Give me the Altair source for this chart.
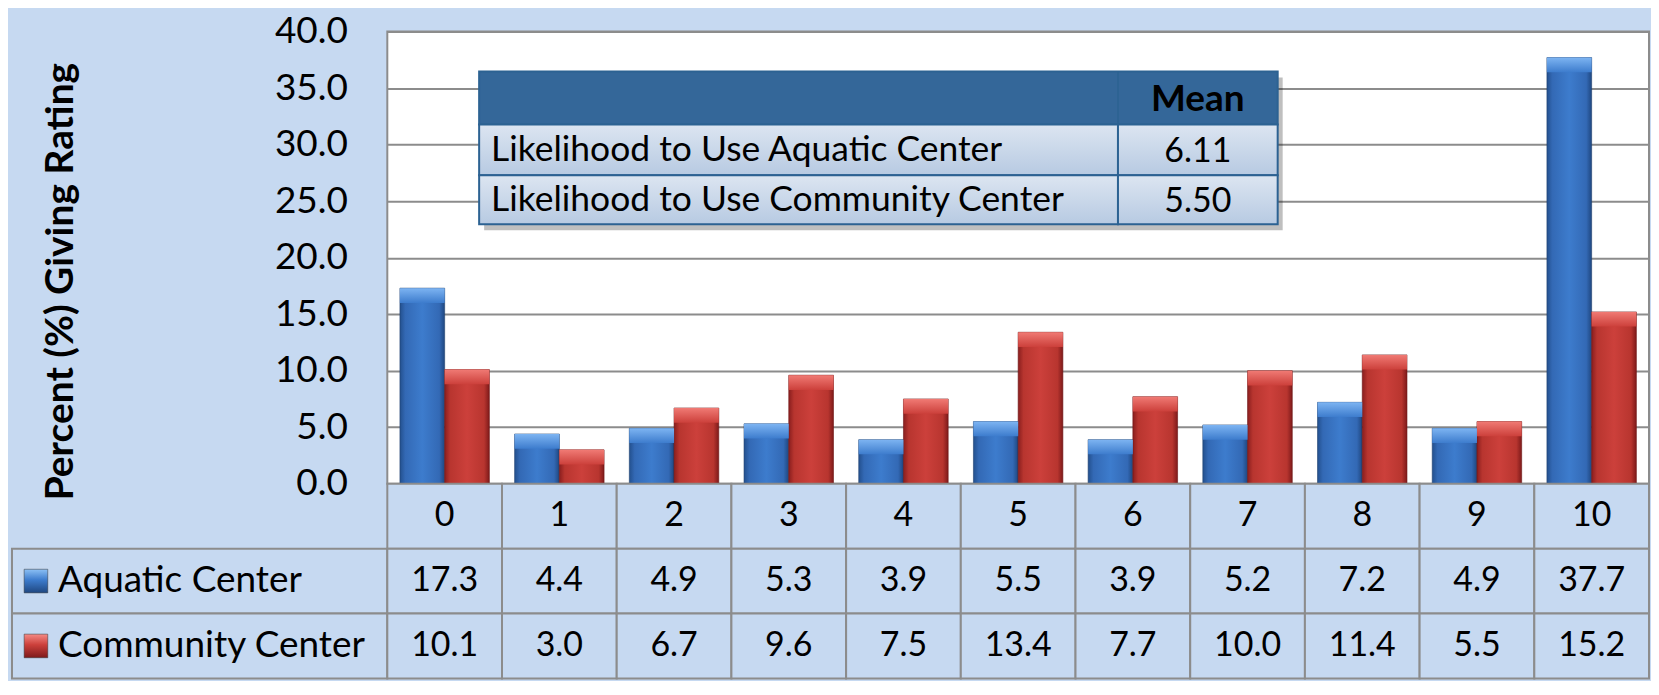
import altair as alt
import pandas as pd

# ---------------- data ----------------
ratings = ["0", "1", "2", "3", "4", "5", "6", "7", "8", "9", "10"]
aquatic = [17.3, 4.4, 4.9, 5.3, 3.9, 5.5, 3.9, 5.2, 7.2, 4.9, 37.7]
community = [10.1, 3.0, 6.7, 9.6, 7.5, 13.4, 7.7, 10.0, 11.4, 5.5, 15.2]
series_names = ["Aquatic Center", "Community Center"]
y_ticks = [0, 5, 10, 15, 20, 25, 30, 35, 40]
y_title = "Percent (%) Giving Rating"
mean_header = "Mean"
mean_labels = ["Likelihood to Use Aquatic Center", "Likelihood to Use Community Center"]
mean_values = ["6.11", "5.50"]

# ---------------- style / layout ----------------
BG = "#C6D9F1"
GRID = "#8C8C8C"
FONT = "Lato"
W_LEFT, W_PLOT, H_PLOT, H_ROW = 376, 1264, 453, 65
row_keys = ["hdr", "aq", "cc"]


def grad_h(stops):
    return alt.Gradient(gradient="linear", x1=0, x2=1, y1=0, y2=0,
                        stops=[alt.GradientStop(color=c, offset=o) for o, c in stops])


def grad_v(stops):
    return alt.Gradient(gradient="linear", x1=0, x2=0, y1=0, y2=1,
                        stops=[alt.GradientStop(color=c, offset=o) for o, c in stops])


blue_body = grad_h([(0, "#23508E"), (0.12, "#3369B5"), (0.5, "#3D7CCD"), (0.88, "#3369B5"), (1, "#1F4780")])
red_body = grad_h([(0, "#8A1E1E"), (0.12, "#B8352F"), (0.5, "#CC403B"), (0.88, "#B8352F"), (1, "#7E1A1A")])
blue_top = grad_v([(0, "#7DB4F2"), (1, "#3D7CCD")])
red_top = grad_v([(0, "#F07A74"), (1, "#CC403B")])
body_grads = [blue_body, red_body]
top_grads = [blue_top, red_top]
icon_grads = [grad_v([(0, "#8CC0F5"), (0.45, "#3D7CCD"), (1, "#1F4780")]),
              grad_v([(0, "#F58A84"), (0.45, "#CC403B"), (1, "#7E1A1A")])]

bars_df = pd.DataFrame({
    "rating": ratings * 2,
    "series": [series_names[0]] * len(ratings) + [series_names[1]] * len(ratings),
    "value": aquatic + community,
})

x_enc = alt.X("rating:N", sort=ratings,
              scale=alt.Scale(domain=ratings, paddingInner=0.22, paddingOuter=0.11), axis=None)
xo_enc = alt.XOffset("series:N", sort=series_names,
                     scale=alt.Scale(domain=series_names, paddingInner=0, paddingOuter=0))
y_axis = alt.Axis(values=y_ticks, format=".1f", grid=True, gridColor=GRID, gridWidth=2,
                  ticks=False, domain=False, labelFont=FONT, labelFontSize=37,
                  labelColor="black", labelPadding=40, title=y_title, titleFont=FONT,
                  titleFontSize=39, titleFontWeight="bold", titleColor="black",
                  titlePadding=194, titleY=250)
y_enc = alt.Y("value:Q", scale=alt.Scale(domain=[0, 40], nice=False), axis=y_axis)

base = alt.Chart(bars_df)
layers = []
for i, s in enumerate(series_names):
    layers.append(base.transform_filter(alt.datum.series == s)
                  .mark_bar(fill=body_grads[i], stroke="#1E3F6E" if i == 0 else "#6E1616",
                            strokeWidth=0.6)
                  .encode(x=x_enc, xOffset=xo_enc, y=y_enc))
for i, s in enumerate(series_names):
    layers.append(base.transform_filter(alt.datum.series == s)
                  .transform_calculate(top2="datum.value - 1.3")
                  .mark_bar(fill=top_grads[i])
                  .encode(x=x_enc, xOffset=xo_enc, y=y_enc, y2=alt.Y2("top2:Q")))

# inset "Mean" table (annotation, pixel layout inside the plot)
one = pd.DataFrame({"k": [0]})
TX0, TX1, TSPLIT = 92, 892, 732
row_edges = [40, 93, 144, 193]
layers.append(alt.Chart(one).mark_rect(fill="#000000", opacity=0.25).encode(
    x=alt.value(TX0 + 5), x2=alt.value(TX1 + 5), y=alt.value(row_edges[0] + 6),
    y2=alt.value(row_edges[-1] + 6)))
layers.append(alt.Chart(one).mark_rect(fill="#346799", stroke="#2C6292", strokeWidth=2).encode(
    x=alt.value(TX0), x2=alt.value(TX1), y=alt.value(row_edges[0]), y2=alt.value(row_edges[1])))
layers.append(alt.Chart(one).mark_rule(stroke="#2C6292", strokeWidth=1.5).encode(
    x=alt.value(TSPLIT), y=alt.value(row_edges[0]), y2=alt.value(row_edges[1])))
layers.append(alt.Chart(pd.DataFrame({"t": [mean_header]})).mark_text(
    font=FONT, fontSize=37, fontWeight="bold", color="black", baseline="middle", align="center").encode(
    text="t:N", x=alt.value((TSPLIT + TX1) / 2), y=alt.value((row_edges[0] + row_edges[1]) / 2 + 2)))
row_grad = grad_v([(0, "#DCE5F1"), (1, "#B7CAE2")])
for r in range(len(mean_labels)):
    y0, y1 = row_edges[r + 1], row_edges[r + 2]
    for xa, xb in [(TX0, TSPLIT), (TSPLIT, TX1)]:
        layers.append(alt.Chart(one).mark_rect(fill=row_grad, stroke="#2C6292", strokeWidth=2).encode(
            x=alt.value(xa), x2=alt.value(xb), y=alt.value(y0), y2=alt.value(y1)))
    rdf = pd.DataFrame({"label": [mean_labels[r]], "mean": [mean_values[r]]})
    layers.append(alt.Chart(rdf).mark_text(font=FONT, fontSize=35.5, color="black",
                                           baseline="middle", align="left").encode(
        text="label:N", x=alt.value(TX0 + 12), y=alt.value((y0 + y1) / 2)))
    layers.append(alt.Chart(rdf).mark_text(font=FONT, fontSize=34, color="black",
                                           baseline="middle", align="center").encode(
        text="mean:N", x=alt.value((TSPLIT + TX1) / 2), y=alt.value((y0 + y1) / 2 + 2)))

bars = alt.layer(*layers).properties(
    width=W_PLOT, height=H_PLOT,
    view=alt.ViewBackground(fill="white", stroke=GRID, strokeWidth=2))

# spacer occupying the left column next to the plot (y axis lives here)
spacer = alt.Chart(one).mark_point(opacity=0).encode(
    x=alt.value(0), y=alt.value(0)).properties(
    width=W_LEFT, height=H_PLOT, view=alt.ViewBackground(stroke="transparent"))

# ---------------- data table under the plot ----------------
trows = []
for i, r in enumerate(ratings):
    trows.append({"rating": r, "row": "hdr", "txt": r})
    trows.append({"rating": r, "row": "aq", "txt": f"{aquatic[i]:.1f}"})
    trows.append({"rating": r, "row": "cc", "txt": f"{community[i]:.1f}"})
table_df = pd.DataFrame(trows)

tx = alt.X("rating:N", sort=ratings, scale=alt.Scale(domain=ratings, paddingInner=0, paddingOuter=0), axis=None)
ty = alt.Y("row:N", sort=row_keys, scale=alt.Scale(domain=row_keys, paddingInner=0, paddingOuter=0), axis=None)
tbase = alt.Chart(table_df)
table_right = alt.layer(
    tbase.mark_rect(fill=BG, stroke=GRID, strokeWidth=2).encode(x=tx, y=ty),
    tbase.mark_text(font=FONT, fontSize=34, color="black", baseline="middle").encode(
        x=tx, y=ty, text="txt:N"),
).properties(width=W_PLOT, height=H_ROW * 3, view=alt.ViewBackground(stroke="transparent"))

left_df = pd.DataFrame({"row": ["aq", "cc"], "label": series_names})
lbase = alt.Chart(left_df)
left_layers = [
    lbase.mark_rect(fill=BG, stroke=GRID, strokeWidth=2).encode(
        x=alt.value(0), x2=alt.value(W_LEFT), y=ty),
    lbase.mark_text(font=FONT, fontSize=37, color="black", baseline="middle", align="left").encode(
        x=alt.value(46), y=ty, text="label:N"),
]
for i, s in enumerate(series_names):
    left_layers.append(lbase.transform_filter(alt.datum.label == s).mark_square(
        size=560, fill=icon_grads[i], opacity=1, stroke="#333333", strokeWidth=0.5).encode(
        x=alt.value(24), y=ty))
table_left = alt.layer(*left_layers).properties(
    width=W_LEFT, height=H_ROW * 3, view=alt.ViewBackground(stroke="transparent"))

chart = alt.concat(spacer, bars, table_left, table_right, columns=2, spacing=0).properties(
    bounds="flush", background=BG,
    padding={"left": 0, "top": 3, "right": 0, "bottom": 0})

chart.save("out.html", embed_options={"renderer": "svg", "actions": False})
